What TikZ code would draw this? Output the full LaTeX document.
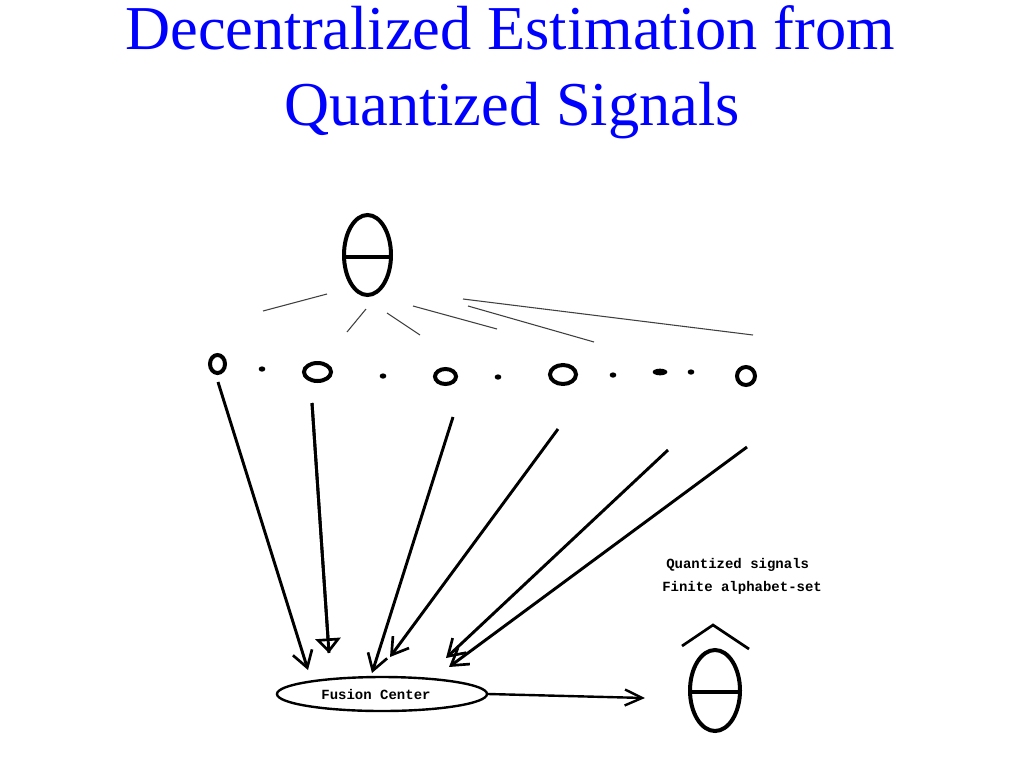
\documentclass[tikz,border=0pt]{standalone}
\usepackage{fontspec}
\setmainfont{Liberation Serif}
\newfontfamily\monofont{Liberation Mono}
\usetikzlibrary{arrows.meta,shapes.geometric}
\definecolor{titleblue}{RGB}{0,0,255}
\begin{document}
\begin{tikzpicture}[x=0.75pt,y=-0.75pt,
  title/.style={font=\fontsize{46.8}{56}\selectfont, text=titleblue, anchor=base, inner sep=0},
  sensor/.style={draw, line width=3pt, ellipse, inner sep=0},
  speck/.style={fill, ellipse, inner sep=0},
  thin/.style={black!75, line width=0.8pt},
  sig/.style={line width=2.2pt, -{Straight Barb[length=12pt,width=15pt,line width=2pt]}},
  lbl/.style={font=\monofont\bfseries\fontsize{10.5}{12}\selectfont, inner sep=0},
  thetaline/.style={line width=3pt}
]
\useasboundingbox (0,0) rectangle (1024,768);

% title
\node[title] (t1) at (510,49) {Decentralized Estimation from};
\node[title] (t2) at (512,125) {Quantized Signals};

% top theta
\node[draw, thetaline, ellipse, minimum width=35.25pt, minimum height=60pt, inner sep=0] (theta) at (367.5,255) {};
\draw[thetaline] (342,257) -- (391,257);

% thin lines from theta
\draw[thin] (263,311) -- (327,294);
\draw[thin] (347,332) -- (366,309);
\draw[thin] (387,313) -- (420,335);
\draw[thin] (413,306) -- (497,329);
\draw[thin] (468,306) -- (594,342);
\draw[thin] (463,299) -- (753,335);

% sensors
\node[sensor, minimum width=11.25pt, minimum height=13.5pt] (s1) at (217.5,364) {};
\node[sensor, minimum width=20.25pt, minimum height=13.5pt] (s2) at (317.5,372) {};
\node[sensor, minimum width=15.75pt, minimum height=11.25pt] (s3) at (445.5,376.5) {};
\node[sensor, minimum width=19.5pt, minimum height=14.25pt] (s4) at (563,374.5) {};
\node[sensor, minimum width=13.5pt, minimum height=13.5pt] (s5) at (746,376) {};

% specks between sensors
\node[speck, minimum width=5pt, minimum height=4pt] (d1) at (262,369) {};
\node[speck, minimum width=5pt, minimum height=4pt] (d2) at (383,376) {};
\node[speck, minimum width=5pt, minimum height=4pt] (d3) at (498,377) {};
\node[speck, minimum width=5pt, minimum height=4pt] (d4) at (613,375) {};
\node[speck, minimum width=11pt, minimum height=5pt] (d5) at (660,372) {};
\node[speck, minimum width=5pt, minimum height=4pt] (d6) at (691,372) {};

% fusion center
\node[draw, ellipse, line width=1.8pt, minimum width=157.5pt, minimum height=25.5pt, inner sep=0] (fc) at (382,694) {};
\node[lbl] (fct) at (376,694) {Fusion Center};

% arrow start / end coordinates
\coordinate (a1s) at (218,382); \coordinate (a1e) at (308,670);
\coordinate (a2s) at (312,403); \coordinate (a2e) at (329,653);
\coordinate (a3s) at (453,417); \coordinate (a3e) at (372,673);
\coordinate (a4s) at (558,429); \coordinate (a4e) at (390,657);
\coordinate (a5s) at (668,450); \coordinate (a5e) at (446,658);
\coordinate (a6s) at (747,447); \coordinate (a6e) at (449,667);

\draw[sig] (a1s) -- (a1e);
\draw[line width=2.2pt] (a2s) -- (a2e);
\draw[line width=2.2pt, -{Triangle[open,length=11pt,width=19pt,line width=2pt]}] (a2s) -- (a2e);
\draw[sig] (a3s) -- (a3e);
\draw[sig] (a4s) -- (a4e);
\draw[sig] (a5s) -- (a5e);
\draw[sig] (a6s) -- (a6e);

% labels
\node[lbl, anchor=west] (q1) at (666,565) {Quantized signals};
\node[lbl, anchor=west] (q2) at (662,588) {Finite alphabet-set};

% theta hat
\node[draw, thetaline, ellipse, minimum width=37.5pt, minimum height=60.75pt, inner sep=0] (thetahat) at (715,690.5) {};
\draw[thetaline] (690,692) -- (740,692);
\draw[line width=2pt] (682,646) -- (713,625) -- (749,649);

% output arrow
\coordinate (oe) at (645,698);
\draw[line width=1.8pt, -{Straight Barb[length=13pt,width=12pt,line width=1.8pt]}] (fc.east) -- (oe);
\end{tikzpicture}
\end{document}
